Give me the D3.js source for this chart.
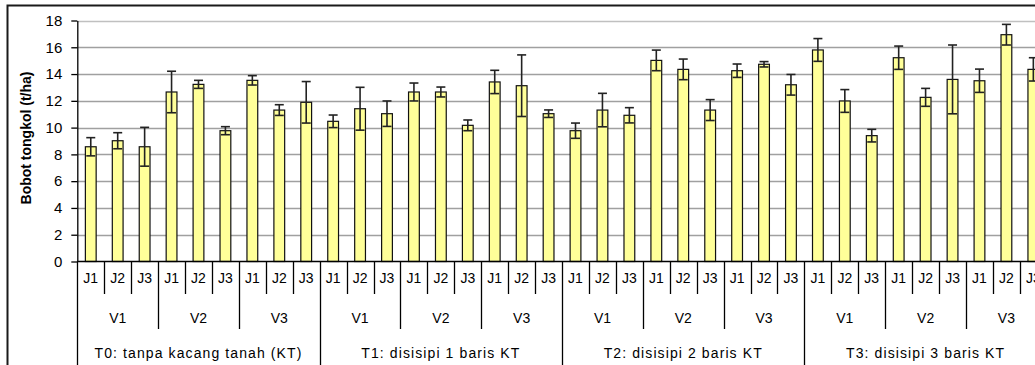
<!DOCTYPE html>
<html>
<head>
<meta charset="utf-8">
<script src="https://cdn.jsdelivr.net/npm/d3@7"></script>
<style>
  html, body { margin: 0; padding: 0; background: #fff; }
  svg { display: block; }
  text { font-family: "Liberation Sans", Arial, sans-serif; fill: #000; }
</style>
</head>
<body>
<svg id="chart" width="1035" height="365"></svg>
<script>
const treatments = ["T0: tanpa kacang tanah (KT)", "T1: disisipi 1 baris KT", "T2: disisipi 2 baris KT", "T3: disisipi 3 baris KT"];
const varieties = ["V1", "V2", "V3"];
const spacings = ["J1", "J2", "J3"];
const values = [8.57, 9.02, 8.57, 12.66, 13.23, 9.77, 13.53, 11.31, 11.89,
                10.47, 11.41, 11.04, 12.66, 12.66, 10.17, 13.41, 13.13, 11.04,
                9.77, 11.31, 10.92, 15.02, 14.35, 11.31, 14.25, 14.73, 13.2,
                15.8, 11.99, 9.4, 15.22, 12.26, 13.6, 13.5, 16.94, 14.35];
const errors = [0.68, 0.6, 1.45, 1.55, 0.3, 0.3, 0.35, 0.4, 1.55,
                0.47, 1.6, 0.95, 0.67, 0.37, 0.4, 0.87, 2.3, 0.28,
                0.57, 1.25, 0.57, 0.77, 0.77, 0.78, 0.5, 0.2, 0.77,
                0.85, 0.85, 0.47, 0.87, 0.67, 2.57, 0.87, 0.77, 0.87];
const yTicks = [0, 2, 4, 6, 8, 10, 12, 14, 16, 18];
const yTitle = "Bobot tongkol (t/ha)";

const svg = d3.select("#chart");
const pLeft = 77.3, pRight = 1046.8, pTop = 20.5, pBottom = 261.5;
const n = values.length;

const cats = [];
treatments.forEach((t, ti) => varieties.forEach((v, vi) => spacings.forEach((s, si) => {
  cats.push({t, v, s, ti, vi, si, idx: cats.length});
})));

const x = d3.scaleBand().domain(d3.range(n)).range([pLeft, pRight]).paddingInner(0.6).paddingOuter(0.3);
const xb = d3.scaleLinear().domain([0, n]).range([pLeft, pRight]);
const y = d3.scaleLinear().domain([0, 18]).range([pBottom, pTop]);

// outer frame
svg.append("path").attr("d", `M7.5,365 V5.5 H1035`).attr("fill", "none").attr("stroke", "#1a1a1a").attr("stroke-width", 2);

// gridlines
svg.append("g").selectAll("line").data(yTicks.filter(d => d > 0)).join("line")
  .attr("x1", pLeft).attr("x2", pRight)
  .attr("y1", d => Math.round(y(d)) + 0.5).attr("y2", d => Math.round(y(d)) + 0.5)
  .attr("stroke", d => d === 18 ? "#c0c0c0" : "#a0a0a0").attr("stroke-width", 1.3);

// bars
svg.append("g").selectAll("rect").data(cats).join("rect")
  .attr("x", d => x(d.idx)).attr("width", x.bandwidth())
  .attr("y", d => y(values[d.idx])).attr("height", d => pBottom - y(values[d.idx]))
  .attr("fill", "#ffff99").attr("stroke", "#111").attr("stroke-width", 1.2);

// error bars
const eg = svg.append("g").attr("stroke", "#222").attr("stroke-width", 1.6);
cats.forEach(d => {
  const cx = x(d.idx) + x.bandwidth() / 2;
  const hi = values[d.idx] + errors[d.idx], lo = values[d.idx] - errors[d.idx];
  eg.append("line").attr("x1", cx).attr("x2", cx).attr("y1", y(hi)).attr("y2", y(lo));
  eg.append("line").attr("x1", cx - 4.5).attr("x2", cx + 4.5).attr("y1", y(hi)).attr("y2", y(hi));
  eg.append("line").attr("x1", cx - 4.5).attr("x2", cx + 4.5).attr("y1", y(lo)).attr("y2", y(lo));
});

// y axis
const ya = svg.append("g").attr("transform", `translate(${pLeft},0)`)
  .call(d3.axisLeft(y).tickValues(yTicks).tickSize(6).tickPadding(9).tickSizeOuter(0));
ya.select(".domain").attr("stroke", "#000").attr("stroke-width", 1.3);
ya.selectAll(".tick line").attr("stroke", "#000").attr("stroke-width", 1.3);
ya.selectAll("text").style("font-size", "15px").style("font-family", '"Liberation Sans", Arial, sans-serif');

svg.append("text").attr("transform", `translate(31,138) rotate(-90)`)
  .attr("text-anchor", "middle").style("font-size", "14px").style("font-weight", "bold").text(yTitle);

// x axis baseline
svg.append("line").attr("x1", pLeft).attr("x2", pRight).attr("y1", pBottom).attr("y2", pBottom)
  .attr("stroke", "#000").attr("stroke-width", 1.3);

// category separators
const row1 = 294, row2 = 329, row3 = 365;
const sep = svg.append("g").attr("stroke", "#000").attr("stroke-width", 1.3);
d3.range(n + 1).forEach(i => {
  const end = (i % 9 === 0) ? row3 : (i % 3 === 0 ? row2 : row1);
  const xx = Math.round(xb(i)) + 0.5;
  sep.append("line").attr("x1", xx).attr("x2", xx).attr("y1", pBottom).attr("y2", end);
});

// labels
svg.append("g").selectAll("text").data(cats).join("text")
  .attr("x", d => xb(d.idx + 0.5)).attr("y", 282.5).attr("text-anchor", "middle")
  .style("font-size", "14px").text(d => d.s);

const vgroups = d3.range(treatments.length * varieties.length);
svg.append("g").selectAll("text").data(vgroups).join("text")
  .attr("x", i => xb(i * 3 + 1.5)).attr("y", 323).attr("text-anchor", "middle")
  .style("font-size", "14px").text(i => varieties[i % 3]);

svg.append("g").selectAll("text").data(treatments).join("text")
  .attr("x", (t, i) => xb(i * 9 + 4.5)).attr("y", 358).attr("text-anchor", "middle")
  .style("font-size", "14px").style("letter-spacing", "1.1px").text(t => t);
</script>
</body>
</html>
